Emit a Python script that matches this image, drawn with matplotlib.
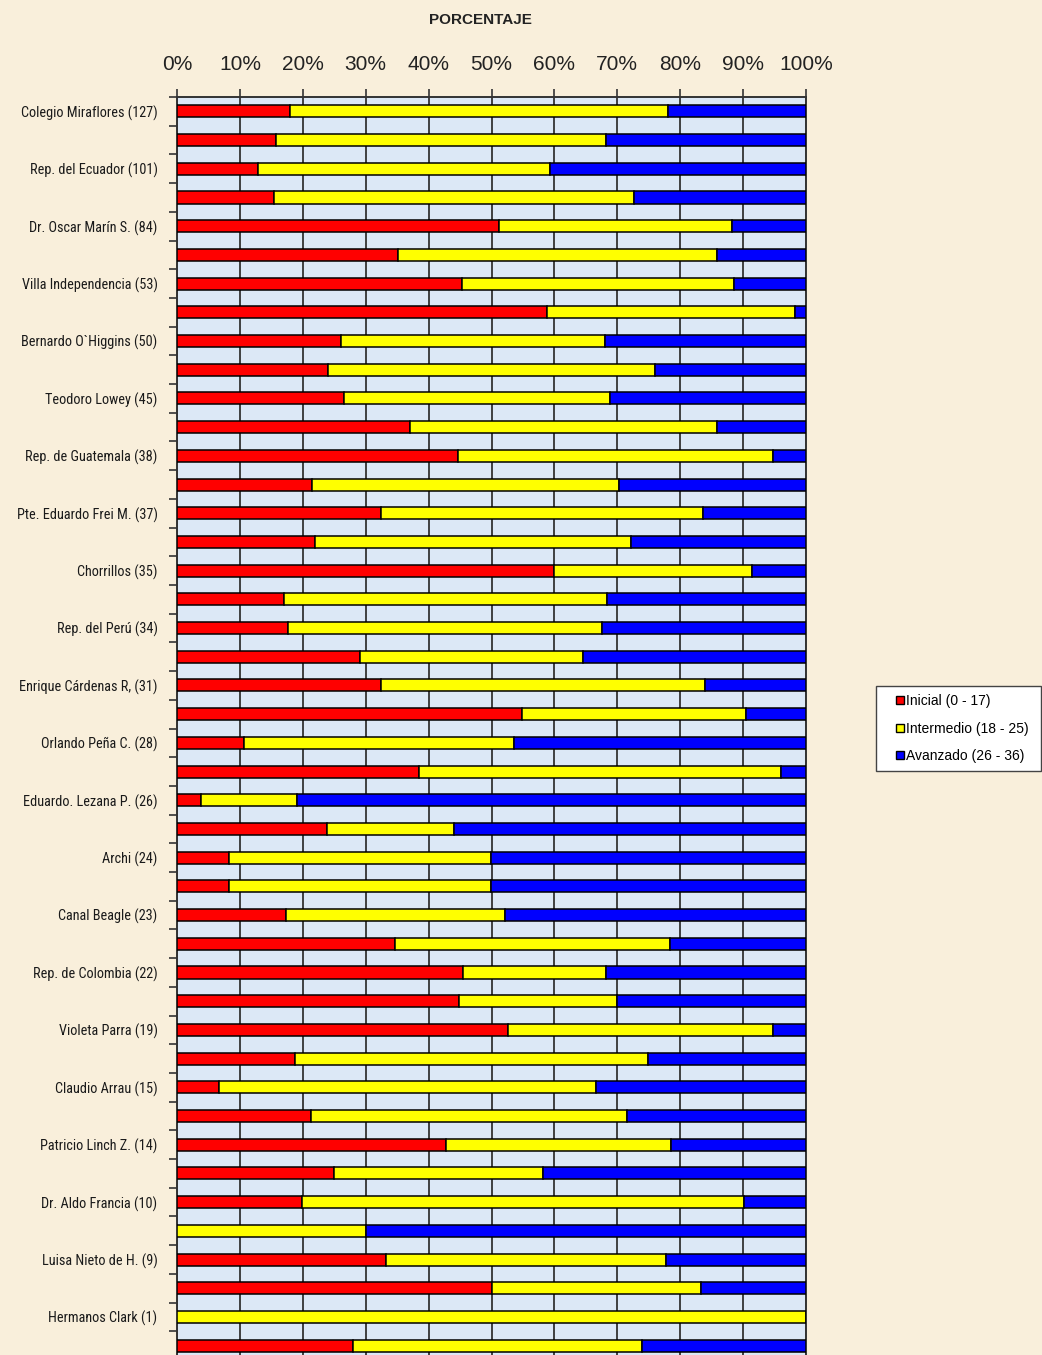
import numpy as np
import matplotlib.pyplot as plt
from matplotlib import font_manager
from matplotlib.lines import Line2D
from matplotlib.patches import Rectangle

# colegios (solo se ven las etiquetas de las barras pares)
colegios = [
    "Colegio Miraflores (127)", "Rep. del Ecuador (101)", "Dr. Oscar Marín S. (84)",
    "Villa Independencia (53)", "Bernardo O`Higgins (50)", "Teodoro Lowey (45)",
    "Rep. de Guatemala (38)", "Pte. Eduardo Frei M. (37)", "Chorrillos (35)",
    "Rep. del Perú (34)", "Enrique Cárdenas R, (31)", "Orlando Peña C. (28)",
    "Eduardo. Lezana P. (26)", "Archi (24)", "Canal Beagle (23)",
    "Rep. de Colombia (22)", "Violeta Parra (19)", "Claudio Arrau (15)",
    "Patricio Linch Z. (14)", "Dr. Aldo Francia (10)", "Luisa Nieto de H. (9)",
    "Hermanos Clark (1)",
]

# porcentajes por barra (44 barras, de arriba hacia abajo)
inicial = [18.0, 15.8, 12.8, 15.4, 51.2, 35.1, 45.3, 58.9, 26.0, 24.0, 26.6,
           37.1, 44.7, 21.5, 32.5, 22.0, 59.9, 17.0, 17.6, 29.1, 32.4, 54.9,
           10.7, 38.4, 3.8, 23.9, 8.2, 8.2, 17.4, 34.7, 45.5, 44.9, 52.7,
           18.7, 6.6, 21.3, 42.8, 25.0, 19.8, 0.0, 33.3, 50.0, 0.0, 28.0]
hasta_intermedio = [78.0, 68.2, 59.3, 72.6, 88.2, 85.9, 88.6, 98.2, 68.0, 76.0, 68.8,
                    85.9, 94.7, 70.3, 83.7, 72.1, 91.4, 68.4, 67.6, 64.6, 83.9, 90.4,
                    53.6, 96.1, 19.1, 44.0, 49.9, 49.9, 52.1, 78.3, 68.2, 70.0, 94.7,
                    74.9, 66.6, 71.5, 78.6, 58.2, 90.1, 30.0, 77.8, 83.3, 100.0, 73.9]
intermedio = [h - i for h, i in zip(hasta_intermedio, inicial)]
avanzado = [100.0 - h for h in hasta_intermedio]

niveles = ["Inicial (0 - 17)", "Intermedio (18 - 25)", "Avanzado (26 - 36)"]
colores = ["#ff0000", "#ffff00", "#0000ff"]

# buscar una fuente angosta para las etiquetas de los colegios
fuente_y = {"family": "Liberation Sans", "size": 9.6}
angostas = [f for f in font_manager.fontManager.ttflist
            if "Narrow" in f.name or "Condensed" in f.name
            or str(f.stretch) in ("condensed", "semi-condensed", "extra-condensed")]
for pref in ["Liberation Sans Narrow", "Arial Narrow", "Roboto Condensed",
             "DejaVu Sans Condensed", "DejaVu Sans", "Open Sans Condensed"]:
    hit = [f for f in angostas if f.name == pref and f.weight in (400, "normal", "regular")
           and f.style == "normal"]
    if hit:
        f = hit[0]
        fuente_y = {"fname": f.fname,
                    "size": 11.2 if "Narrow" in f.name else 10.3}
        break
if "fname" in fuente_y:
    prop_y = font_manager.FontProperties(fname=fuente_y["fname"], size=fuente_y["size"])
else:
    prop_y = font_manager.FontProperties(family=fuente_y["family"], size=fuente_y["size"])

fondo = "#f9efdb"
fig = plt.figure(figsize=(10.42, 13.55), dpi=100, facecolor=fondo)
ax = fig.add_axes([0.1699, -0.0037, 0.6036, 0.9321])
ax.set_facecolor("#dce8f6")

y = np.arange(len(inicial))
izq = np.zeros(len(inicial))
for serie, color, nombre in zip([inicial, intermedio, avanzado], colores, niveles):
    ax.barh(y, serie, left=izq, height=0.42, color=color, edgecolor="black",
            linewidth=1.1, label=nombre, zorder=3)
    izq = izq + np.array(serie)

ax.set_xlim(0, 100)
ax.set_ylim(len(inicial) - 0.5, -0.5)

# eje x arriba
ax.xaxis.tick_top()
ax.set_xticks(np.arange(0, 101, 10))
ax.set_xticklabels([f"{v}%" for v in range(0, 101, 10)],
                   fontsize=15, family="Liberation Sans", color="#222222")
ax.tick_params(axis="x", direction="out", length=6, width=1.2, color="#333333", pad=10.5)
ax.grid(axis="x", color="#333333", linewidth=1.3, zorder=1)

# eje y: marcas en los limites, etiquetas en barras pares
ax.set_yticks(np.arange(-0.5, len(inicial), 1))
ax.set_yticklabels([])
ax.set_yticks(y[::2], minor=True)
ax.set_yticklabels(colegios, minor=True, fontproperties=prop_y, color="#1a1a1a")
ax.tick_params(axis="y", which="major", direction="out", length=6, width=1.2, color="#333333")
ax.tick_params(axis="y", which="minor", length=0, pad=14)

for lado in ["top", "left", "right", "bottom"]:
    ax.spines[lado].set_color("#333333")
    ax.spines[lado].set_linewidth(1.4)

fig.text(0.4607, 0.9855, "PORCENTAJE", ha="center", va="center",
         fontsize=11, fontweight="bold", family="Liberation Sans", color="#222222")

# leyenda: marco dibujado aparte
fig.patches.append(Rectangle((876 / 1042, 1 - 771 / 1355), 165 / 1042, 85 / 1355,
                             transform=fig.transFigure, facecolor="white",
                             edgecolor="#444444", linewidth=1.0, zorder=5))
manijas = [Line2D([0], [0], marker="s", linestyle="", markersize=6,
                  markerfacecolor=c, markeredgecolor="black", markeredgewidth=1.0)
           for c in colores]
leg = fig.legend(manijas, niveles, loc="upper left",
                 bbox_to_anchor=(887 / 1042, 1 - 686 / 1355),
                 frameon=False, borderaxespad=0,
                 prop={"family": "Liberation Sans", "size": 10},
                 handlelength=0.6, handletextpad=0.15, labelspacing=0.95, borderpad=0.6)
leg.set_zorder(6)

fig.savefig("out.png", dpi=100, facecolor=fondo)
